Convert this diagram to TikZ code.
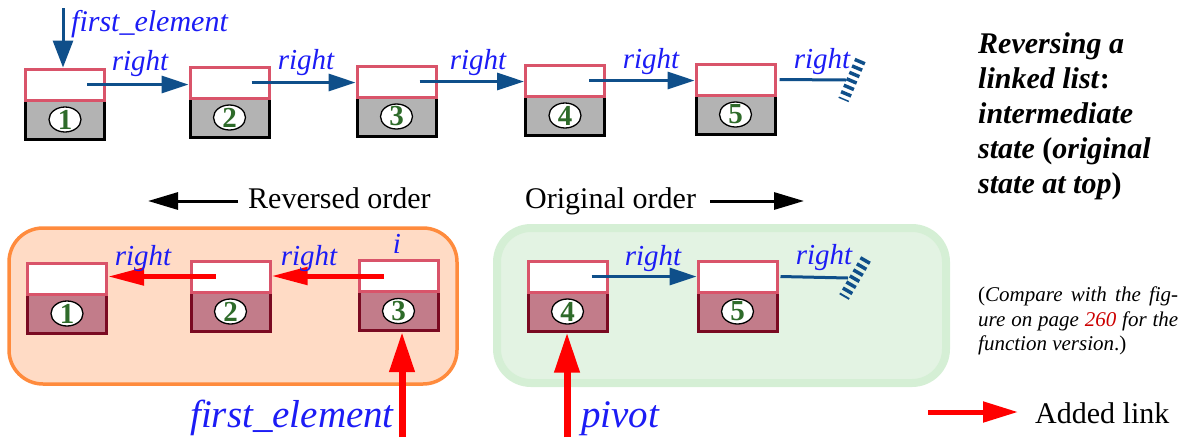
\documentclass[tikz,border=0pt]{standalone}
\usepackage{fontspec}
\setmainfont{LiberationSerif}[
  Extension=.ttf,
  UprightFont=*-Regular,
  BoldFont=*-Bold,
  ItalicFont=*-Italic,
  BoldItalicFont=*-BoldItalic]
\usetikzlibrary{arrows.meta,shapes.geometric}
\definecolor{arrblue}{HTML}{0F4F8A}
\definecolor{lblue}{HTML}{1C1CF5}
\definecolor{pinkline}{HTML}{D9546A}
\definecolor{cellgray}{HTML}{B3B3B3}
\definecolor{mauve}{HTML}{C27C8A}
\definecolor{darkred}{HTML}{7A0A22}
\definecolor{digitgreen}{HTML}{2E6B2A}
\definecolor{peach}{HTML}{FFDBC5}
\definecolor{orangeline}{HTML}{FF8B3D}
\definecolor{mint}{HTML}{E3F3E3}
\definecolor{mintline}{HTML}{D5EFD5}
\definecolor{pagered}{HTML}{CC0000}
\begin{document}
\begin{tikzpicture}[x=1pt,y=-1pt,
 field/.style={draw=pinkline,line width=3pt,fill=white,minimum width=79pt,minimum height=31pt,inner sep=0pt},
 graybox/.style={draw=black,line width=3pt,fill=cellgray,minimum width=79pt,minimum height=39pt,inner sep=0pt},
 mauvebox/.style={draw=darkred,line width=3pt,fill=mauve,minimum width=79pt,minimum height=39pt,inner sep=0pt},
 ring/.style={ellipse,draw=black,line width=1.3pt,fill=white,minimum width=32pt,minimum height=25pt,inner sep=0pt},
 digit/.style={inner sep=0pt,font=\fontsize{29}{29}\selectfont\bfseries,text=digitgreen},
 lab/.style={font=\fontsize{29}{29}\selectfont\itshape,text=lblue,inner sep=0pt,anchor=base},
 biglab/.style={font=\fontsize{39}{39}\selectfont\itshape,text=lblue,inner sep=0pt},
 link/.style={draw=arrblue,line width=3pt,-{Triangle[length=27pt,width=17pt]}},
 nolink/.style={draw=arrblue,line width=3pt},
 hatch/.style={draw=arrblue,line width=11pt,dash pattern=on 3.5pt off 3.5pt},
 added/.style={draw=red,line width=5pt,-{Triangle[length=36pt,width=17pt]}},
 pointer/.style={draw=red,line width=7pt,-{Triangle[length=40pt,width=24pt]}},
 order/.style={draw=black,line width=3pt,-{Triangle[length=30pt,width=17pt]}},
 plain/.style={font=\fontsize{30}{30}\selectfont,inner sep=0pt,anchor=base west},
]
\useasboundingbox (0,0) rectangle (1191,437);

% background groups
\draw[fill=peach,draw=orangeline,line width=3.5pt,rounded corners=34pt] (9,228) rectangle (457,384);
\draw[fill=mint,draw=mintline,line width=8pt,rounded corners=34pt] (497,228) rectangle (946,383);

% ---------- top row (original state) ----------
\node[graybox] (b1) at (65,119.5) {};
\node[field]   (t1) at (65,84.5) {};
\node[graybox] (b2) at (229.5,117.5) {};
\node[field]   (t2) at (229.5,82.5) {};
\node[graybox] (b3) at (396.5,116.5) {};
\node[field]   (t3) at (396.5,81.5) {};
\node[graybox] (b4) at (565,115.5) {};
\node[field]   (t4) at (565,80.5) {};
\node[graybox] (b5) at (735.5,114.5) {};
\node[field]   (t5) at (735.5,79.5) {};
\node[ring] (c1) at (b1) {};
\node[ring] (c2) at (b2) {};
\node[ring] (c3) at (b3) {};
\node[ring] (c4) at (b4) {};
\node[ring] (c5) at (b5) {};
\node[digit] (n1) at (c1) {1};
\node[digit] (n2) at (c2) {2};
\node[digit] (n3) at (c3) {3};
\node[digit] (n4) at (c4) {4};
\node[digit] (n5) at (c5) {5};

\draw[link] ([xshift=-19pt]t1.east) -- (t1.center -| t2.west);
\draw[link] ([xshift=-19pt]t2.east) -- (t2.center -| t3.west);
\draw[link] ([xshift=-18pt]t3.east) -- (t3.center -| t4.west);
\draw[link] ([xshift=-17pt]t4.east) -- (t4.center -| t5.west);
\coordinate (h1) at (852,80);
\draw[nolink] ([xshift=3pt]t5.east) -- ([xshift=-6pt]h1);
\draw[hatch] ([shift={(8.5,-20)}]h1) -- ([shift={(-8.5,20)}]h1);

\node[lab] (r1) at (140,70) {right};
\node[lab] (r2) at (306,69.5) {right};
\node[lab] (r3) at (478,69) {right};
\node[lab] (r4) at (651,68.5) {right};
\node[lab] (r5) at (822,68) {right};

\node[font=\fontsize{30}{30}\selectfont\itshape,text=lblue,inner sep=0pt,anchor=base west] (fetop) at (71,31) {first\_element};
\coordinate (fe0) at (63,8);
\draw[link,-{Triangle[length=27pt,width=20pt]}] (fe0) -- (fe0 |- t1.north);

% ---------- order captions ----------
\node[plain] (rev) at (248,208) {Reversed order};
\coordinate (rv0) at (238,201);
\coordinate (rv1) at (148,201);
\draw[order] (rv0) -- (rv1);
\node[plain] (orig) at (525,208) {Original order};
\coordinate (or0) at (710,201);
\coordinate (or1) at (804,201);
\draw[order] (or0) -- (or1);

% ---------- lower row (intermediate state) ----------
\node[mauvebox] (v1) at (67,313.5) {};
\node[field]    (u1) at (67,278.5) {};
\node[mauvebox] (v2) at (230.5,311.5) {};
\node[field]    (u2) at (230.5,276.5) {};
\node[mauvebox] (v3) at (398.5,311) {};
\node[field]    (u3) at (398.5,276) {};
\node[mauvebox] (v4) at (567.5,311.5) {};
\node[field]    (u4) at (567.5,276.5) {};
\node[mauvebox] (v5) at (737.5,311.5) {};
\node[field]    (u5) at (737.5,276.5) {};
\node[ring] (e1) at (v1) {};
\node[ring] (e2) at (v2) {};
\node[ring] (e3) at (v3) {};
\node[ring] (e4) at (v4) {};
\node[ring] (e5) at (v5) {};
\node[digit] (m1) at (e1) {1};
\node[digit] (m2) at (e2) {2};
\node[digit] (m3) at (e3) {3};
\node[digit] (m4) at (e4) {4};
\node[digit] (m5) at (e5) {5};

\draw[added] ([xshift=-15pt]u2.center) -- (u2.center -| u1.east);
\draw[added] ([xshift=-15pt]u3.center) -- (u3.center -| u2.east);
\draw[link] ([xshift=-17pt]u4.east) -- (u4.center -| u5.west);
\coordinate (h2) at (855,278);
\draw[nolink] ([xshift=2pt]u5.east) -- ([xshift=-7pt]h2);
\draw[hatch] ([shift={(11,-19)}]h2) -- ([shift={(-11,19)}]h2);

\node[lab] (s1) at (143,265) {right};
\node[lab] (s2) at (309,265) {right};
\node[lab] (si) at (397,253) {i};
\node[lab] (s4) at (653,265) {right};
\node[lab] (s5) at (824,264) {right};

\coordinate (fe1) at (402,437);
\draw[pointer] (fe1) -- (fe1 |- v3.south);
\node[biglab,anchor=base east] (febot) at (394,427) {first\_element};
\coordinate (pv1) at (567,437);
\draw[pointer] (pv1) -- (pv1 |- v4.south);
\node[biglab,anchor=base west] (pivot) at (581,427) {pivot};

% ---------- side texts ----------
\node[anchor=north west,inner sep=0pt,align=left,font=\fontsize{30}{35}\selectfont\bfseries] (title) at (978,32.5)
 {\textit{Reversing a}\\\textit{linked list}:\\\textit{intermediate}\\\textit{state} (\textit{original}\\\textit{state at top})};
\node[anchor=north west,inner sep=0pt,align=left,font=\fontsize{21}{24.5}\selectfont] (cmp) at (978,287)
 {\makebox[200pt][s]{(\textit{Compare with the fig-}}\\
  \makebox[200pt][s]{\textit{ure on page \textcolor{pagered}{260} for the}}\\
  \textit{function version}.)};

\coordinate (lg0) at (928,412);
\coordinate (lg1) at (1018,412);
\draw[added,-{Triangle[length=35pt,width=20pt]}] (lg0) -- (lg1);
\node[plain] (addlab) at (1035,423) {Added link};
\end{tikzpicture}
\end{document}
